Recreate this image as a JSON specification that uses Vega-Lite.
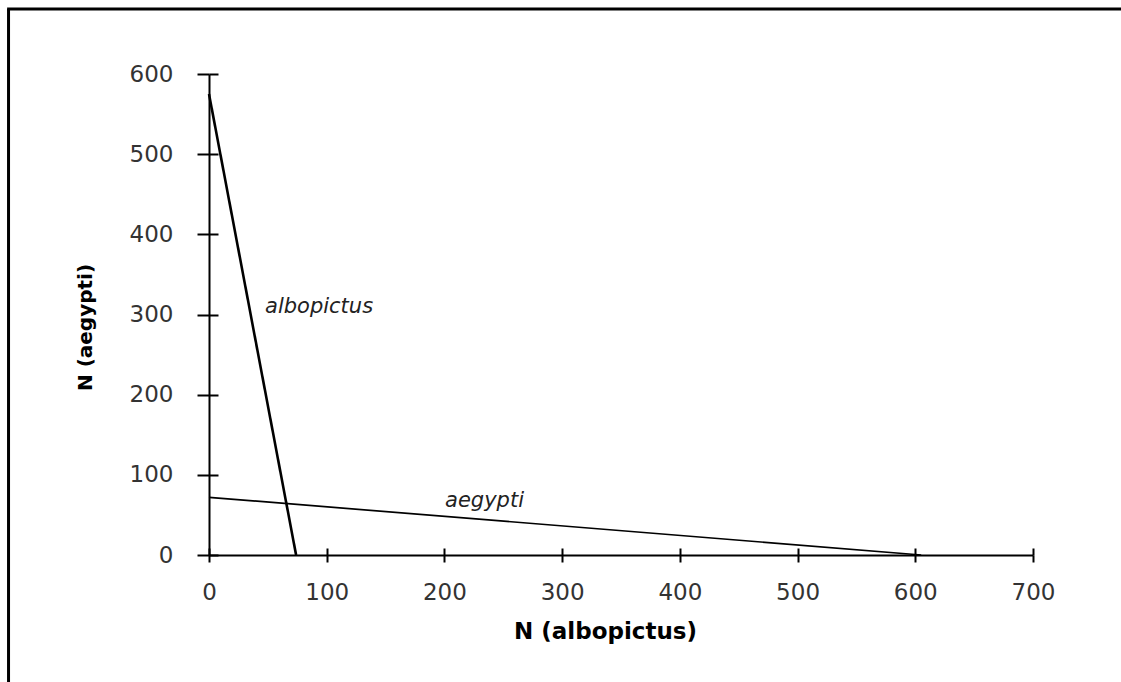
{
  "$schema": "https://vega.github.io/schema/vega-lite/v6.json",
  "width": 824,
  "height": 481,
  "autosize": "none",
  "padding": {"left": 209, "top": 74, "right": 88, "bottom": 127},
  "background": "white",
  "config": {
    "view": {"stroke": null},
    "axis": {
      "grid": false,
      "domainColor": "black",
      "domainWidth": 2,
      "tickColor": "black",
      "tickWidth": 2,
      "labelFont": "DejaVu Sans",
      "labelFontSize": 23,
      "labelColor": "#333333",
      "labelFlush": false,
      "titleFont": "DejaVu Sans",
      "titleFontWeight": "bold",
      "titleColor": "black"
    }
  },
  "datasets": {
    "lines": [
      {"species": "albopictus", "albo": 0, "aeg": 575},
      {"species": "albopictus", "albo": 74, "aeg": 0},
      {"species": "aegypti", "albo": 0, "aeg": 72},
      {"species": "aegypti", "albo": 605, "aeg": 0}
    ],
    "labels": [
      {"label": "albopictus", "albo": 47.6, "aeg": 302},
      {"label": "aegypti", "albo": 200.5, "aeg": 60}
    ]
  },
  "resolve": {"axis": {"x": "independent", "y": "independent"}},
  "layer": [
    {
      "data": {"name": "lines"},
      "transform": [{"filter": "datum.species === 'albopictus'"}],
      "mark": {"type": "line", "color": "black", "strokeWidth": 2.6, "clip": false},
      "encoding": {
        "x": {
          "field": "albo", "type": "quantitative",
          "scale": {"domain": [0, 700], "nice": false, "zero": false},
          "axis": {
            "orient": "bottom",
            "values": [0, 100, 200, 300, 400, 500, 600, 700],
            "tickSize": 7,
            "labelPadding": 19,
            "title": "N (albopictus)",
            "titleFontSize": 23,
            "titlePadding": 16,
            "titleX": 396,
            "titleAlign": "center"
          }
        },
        "y": {
          "field": "aeg", "type": "quantitative",
          "scale": {"domain": [0, 600], "nice": false, "zero": false},
          "axis": {
            "orient": "left",
            "values": [0, 100, 200, 300, 400, 500, 600],
            "tickSize": 12,
            "labelPadding": 24,
            "title": "N (aegypti)",
            "titleFontSize": 20,
            "titlePadding": 34,
            "titleY": 253
          }
        }
      }
    },
    {
      "data": {"name": "lines"},
      "transform": [{"filter": "datum.species === 'aegypti'"}],
      "mark": {"type": "line", "color": "black", "strokeWidth": 1.7, "clip": false},
      "encoding": {
        "x": {
          "field": "albo", "type": "quantitative",
          "axis": {
            "orient": "bottom",
            "values": [0, 100, 200, 300, 400, 500, 600, 700],
            "tickSize": -7,
            "labels": false,
            "domain": false,
            "title": null
          }
        },
        "y": {
          "field": "aeg", "type": "quantitative",
          "axis": {
            "orient": "left",
            "values": [0, 100, 200, 300, 400, 500, 600],
            "tickSize": -9,
            "labels": false,
            "domain": false,
            "title": null
          }
        }
      }
    },
    {
      "data": {"name": "labels"},
      "mark": {"type": "text", "font": "DejaVu Sans", "fontStyle": "italic", "fontSize": 21, "color": "#222222", "align": "left", "baseline": "alphabetic", "clip": false},
      "encoding": {
        "x": {"field": "albo", "type": "quantitative", "axis": null},
        "y": {"field": "aeg", "type": "quantitative", "axis": null},
        "text": {"field": "label", "type": "nominal"}
      }
    },
    {
      "data": {"values": [{}]},
      "mark": {"type": "rule", "color": "black", "strokeWidth": 3, "clip": false},
      "encoding": {
        "x": {"datum": -170.3, "type": "quantitative", "axis": null},
        "y": {"datum": -200, "type": "quantitative", "axis": null},
        "y2": {"datum": 681.1}
      }
    },
    {
      "data": {"values": [{}]},
      "mark": {"type": "rule", "color": "black", "strokeWidth": 3, "clip": false},
      "encoding": {
        "x": {"datum": -171.5, "type": "quantitative", "axis": null},
        "x2": {"datum": 900},
        "y": {"datum": 681.1, "type": "quantitative", "axis": null}
      }
    }
  ]
}
